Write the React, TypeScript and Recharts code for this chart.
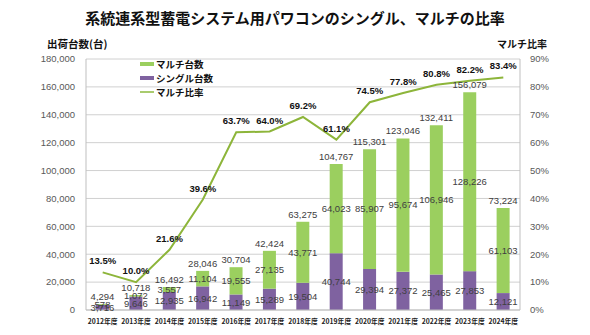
import React from "react";
import { ComposedChart, Bar, Line, XAxis, YAxis, CartesianGrid, LabelList } from "recharts";

const years = [
    "2012年度", "2013年度", "2014年度", "2015年度", "2016年度", "2017年度", "2018年度",
    "2019年度", "2020年度", "2021年度", "2022年度", "2023年度", "2024年度",
];
const singleUnits = [3716, 9646, 12935, 16942, 11149, 15289, 19504, 40744, 29394, 27372, 25465, 27853, 12121];
const multiUnits = [578, 1072, 3557, 11104, 19555, 27135, 43771, 64023, 85907, 95674, 106946, 128226, 61103];
const totalUnits = [4294, 10718, 16492, 28046, 30704, 42424, 63275, 104767, 115301, 123046, 132411, 156079, 73224];
const multiRatio = [13.5, 10.0, 21.6, 39.6, 63.7, 64.0, 69.2, 61.1, 74.5, 77.8, 80.8, 82.2, 83.4];
const unitTicks = [0, 20000, 40000, 60000, 80000, 100000, 120000, 140000, 160000, 180000];
const ratioTicks = [0, 10, 20, 30, 40, 50, 60, 70, 80, 90];

const GREEN = "#9BCF5F";
const PURPLE = "#7F62A0";
const LINE = "#8DB53A";
const JP = "'Noto Sans CJK JP', sans-serif";
const NUM = "'Liberation Sans', Arial, sans-serif";

const data = years.map((year, i) => ({
    year,
    single: singleUnits[i],
    multi: multiUnits[i],
    total: totalUnits[i],
    ratio: multiRatio[i],
}));

const fmt = (v: number) => v.toLocaleString("en-US");

const legendItems = [
    { label: "マルチ台数", color: GREEN, h: 4 },
    { label: "シングル台数", color: PURPLE, h: 4 },
    { label: "マルチ比率", color: "#A9CB6E", h: 2 },
];

export default function App() {
    const valueLabel = { fontSize: 9.5, fill: "#404040", fontFamily: NUM };
    return (
        <div style={{ position: "absolute", left: 0, top: 0, width: 590, height: 335, background: "#fff" }}>
            <div style={{ position: "absolute", left: 0, width: 590, top: 7, textAlign: "center", fontFamily: JP, fontWeight: 700, fontSize: 15, color: "#111" }}>
                系統連系型蓄電システム用パワコンのシングル、マルチの比率
            </div>
            <div style={{ position: "absolute", left: 47, top: 36, fontFamily: JP, fontWeight: 700, fontSize: 10.5, color: "#111" }}>
                出荷台数(台)
            </div>
            <div style={{ position: "absolute", left: 497, top: 36, fontFamily: JP, fontWeight: 700, fontSize: 10, color: "#111" }}>
                マルチ比率
            </div>
            <ComposedChart
                width={590}
                height={335}
                data={data}
                margin={{ top: 59, right: 0, bottom: 0, left: 0 }}
                barCategoryGap={0}
            >
                <CartesianGrid vertical={false} stroke="#D0D0D0" yAxisId="left" />
                <XAxis
                    dataKey="year"
                    height={25}
                    tickLine={false}
                    tickMargin={3}
                    axisLine={{ stroke: "#BFBFBF" }}
                    interval={0}
                    tick={{ fontSize: 6.8, fill: "#222", fontFamily: JP, fontWeight: 700 }}
                />
                <YAxis
                    yAxisId="left"
                    width={86}
                    domain={[0, 180000]}
                    ticks={unitTicks}
                    tickFormatter={fmt}
                    tickLine={false}
                    tickMargin={5}
                    axisLine={{ stroke: "#BFBFBF" }}
                    tick={{ fontSize: 9.5, fill: "#595959", fontFamily: NUM }}
                />
                <YAxis
                    yAxisId="right"
                    orientation="right"
                    width={70}
                    domain={[0, 90]}
                    ticks={ratioTicks}
                    tickFormatter={(v: number) => `${v}%`}
                    tickLine={false}
                    tickMargin={4}
                    axisLine={{ stroke: "#BFBFBF" }}
                    tick={{ fontSize: 9.5, fill: "#595959", fontFamily: NUM }}
                />
                <Bar yAxisId="left" dataKey="single" stackId="units" fill={PURPLE} barSize={13} isAnimationActive={false}>
                    <LabelList dataKey="single" position="center" formatter={fmt} style={valueLabel} />
                </Bar>
                <Bar yAxisId="left" dataKey="multi" stackId="units" fill={GREEN} barSize={13} isAnimationActive={false}>
                    <LabelList dataKey="multi" position="center" formatter={fmt} style={valueLabel} />
                    <LabelList dataKey="total" position="top" offset={4} formatter={fmt} style={valueLabel} />
                </Bar>
                <Line
                    yAxisId="right"
                    dataKey="ratio"
                    type="linear"
                    stroke={LINE}
                    strokeWidth={2}
                    dot={false}
                    isAnimationActive={false}
                >
                    <LabelList
                        dataKey="ratio"
                        position="top"
                        offset={8}
                        formatter={(v: number) => `${v.toFixed(1)}%`}
                        style={{ fontSize: 9.5, fontWeight: 700, fill: "#111", fontFamily: NUM }}
                    />
                </Line>
            </ComposedChart>
            <div style={{ position: "absolute", left: 140, top: 57 }}>
                {legendItems.map((item) => (
                    <div key={item.label} style={{ display: "flex", alignItems: "center", height: 14 }}>
                        <div style={{ width: 14, height: item.h, background: item.color, marginRight: 2 }} />
                        <span style={{ fontFamily: JP, fontWeight: 700, fontSize: 9.5, color: "#111" }}>{item.label}</span>
                    </div>
                ))}
            </div>
        </div>
    );
}
